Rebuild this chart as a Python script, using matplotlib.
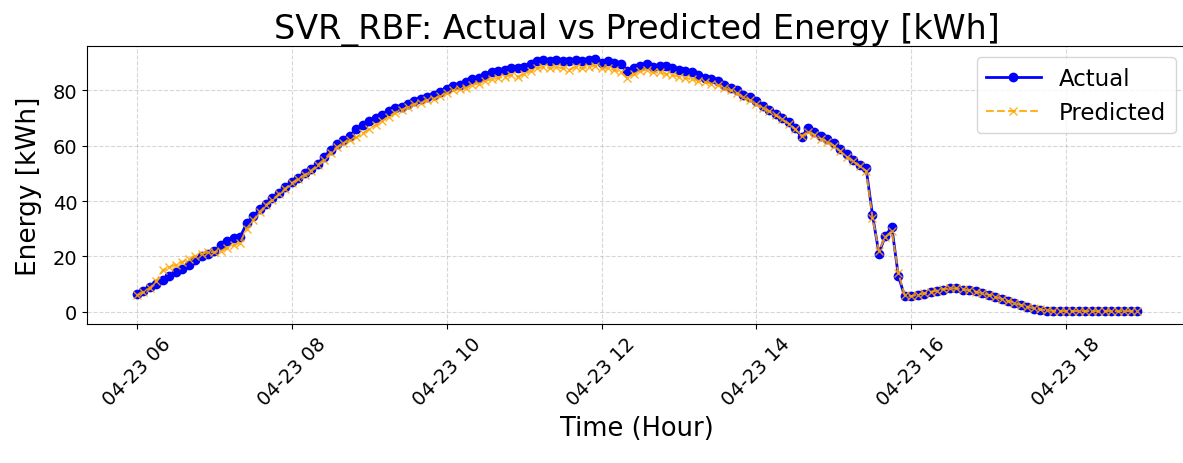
import pandas as pd
import matplotlib
matplotlib.use("Agg")
import matplotlib.pyplot as plt

# ==========================================
# DATA (5-minute steps)
# ==========================================

start_time = "2024-04-23 06:00"
n_points = 156

actual = [
    6.5, 7.5, 8.8, 10.0, 11.5, 12.8, 14.2, 15.5, 17.0, 18.5, 20.0, 21.0,
    22.0, 24.0, 25.5, 26.5, 27.0, 32.0, 34.5, 37.0, 39.0, 41.0, 43.0, 45.0,
    47.0, 48.5, 50.0, 51.5, 53.5, 56.0, 58.5, 60.5, 62.0, 63.5, 66.0, 67.5,
    69.0, 70.0, 71.0, 72.5, 73.5, 74.0, 75.0, 76.0, 77.0, 77.5, 78.5, 79.5,
    80.5, 81.5, 82.0, 83.0, 84.0, 84.5, 85.5, 86.5, 87.0, 87.5, 88.0, 88.0,
    88.5, 89.5, 90.5, 91.0, 90.5, 91.0, 90.5, 90.5, 91.0, 90.5, 91.0, 91.5,
    90.0, 90.5, 90.0, 89.5, 87.0, 88.0, 89.0, 89.5, 88.5, 89.0, 89.0, 88.0,
    87.5, 87.0, 86.5, 85.5, 84.5, 84.0, 83.5, 82.0, 81.0, 80.0, 78.5, 77.5,
    76.0, 74.5, 73.0, 71.5, 70.0, 68.5, 66.5, 63.0, 66.5, 65.0, 63.5, 62.5,
    61.0, 59.0, 57.0, 55.0, 53.0, 52.0, 35.0, 21.0, 27.5, 30.5, 13.0, 5.5,
    5.5, 6.0, 6.5, 7.0, 7.5, 8.0, 8.5, 8.5, 8.0, 7.8, 7.3, 6.8,
    6.0, 5.3, 4.5, 3.8, 3.0, 2.3, 1.7, 1.1, 0.7, 0.4, 0.2, 0.1,
    0.1, 0.1, 0.1, 0.1, 0.1, 0.1, 0.1, 0.1, 0.1, 0.1, 0.1, 0.1,
]

predicted = [
    6.0, 7.0, 8.5, 11.0, 15.0, 16.0, 17.0, 18.0, 19.0, 20.0, 21.0, 21.5,
    21.5, 22.0, 23.0, 24.0, 25.0, 30.0, 33.0, 36.0, 38.5, 40.5, 42.5, 44.5,
    46.5, 48.0, 49.5, 51.0, 53.0, 55.0, 57.5, 59.5, 61.0, 62.0, 63.0, 64.5,
    66.0, 67.5, 69.0, 70.5, 72.0, 73.0, 74.0, 75.0, 75.5, 76.5, 77.0, 78.0,
    79.0, 80.0, 80.5, 81.0, 82.0, 82.5, 83.5, 84.0, 84.5, 85.0, 85.5, 85.0,
    86.0, 87.0, 88.0, 88.5, 88.0, 88.5, 88.0, 87.5, 88.5, 88.0, 88.5, 89.0,
    88.0, 88.0, 87.5, 86.5, 84.5, 86.0, 87.0, 87.5, 86.5, 86.5, 86.0, 85.5,
    85.0, 84.5, 84.0, 83.5, 83.0, 82.5, 82.0, 81.0, 80.0, 79.0, 77.5, 76.5,
    75.0, 73.5, 72.5, 71.0, 69.5, 68.0, 66.0, 63.5, 65.0, 64.0, 62.5, 61.5,
    60.0, 58.0, 56.0, 54.5, 52.5, 51.0, 34.0, 22.0, 27.0, 29.0, 14.0, 6.0,
    5.6, 6.1, 6.6, 7.1, 7.6, 8.1, 8.4, 8.4, 8.1, 7.7, 7.2, 6.7,
    6.1, 5.4, 4.6, 3.9, 3.1, 2.4, 1.8, 1.2, 0.8, 0.5, 0.3, 0.2,
    0.2, 0.2, 0.2, 0.2, 0.2, 0.2, 0.2, 0.2, 0.2, 0.2, 0.2, 0.2,
]

times = pd.date_range(start_time, periods=n_points, freq="5min")

# ==========================================
# PLOT
# ==========================================

fig = plt.figure(figsize=(11.83, 4.64), dpi=100)
ax = fig.add_axes([87 / 1183, 139 / 464, 1100 / 1183, 278 / 464])

ax.plot(times, actual, color="blue", marker="o", markersize=6,
        linewidth=2, label="Actual")
ax.plot(times, predicted, color="orange", marker="x", markersize=6,
        linestyle="--", linewidth=1.5, alpha=0.85, label="Predicted")

ax.set_title("SVR_RBF: Actual vs Predicted Energy [kWh]", fontsize=24)
ax.set_xlabel("Time (Hour)", fontsize=18.5)
ax.set_ylabel("Energy [kWh]", fontsize=19, labelpad=8)

ax.tick_params(axis="both", labelsize=14)
plt.setp(ax.get_xticklabels(), rotation=45)

ax.grid(True, linestyle="--", alpha=0.5)
ax.legend(loc="upper right", fontsize=16.5, handlelength=2.4)

fig.savefig("out.png", dpi=100)
